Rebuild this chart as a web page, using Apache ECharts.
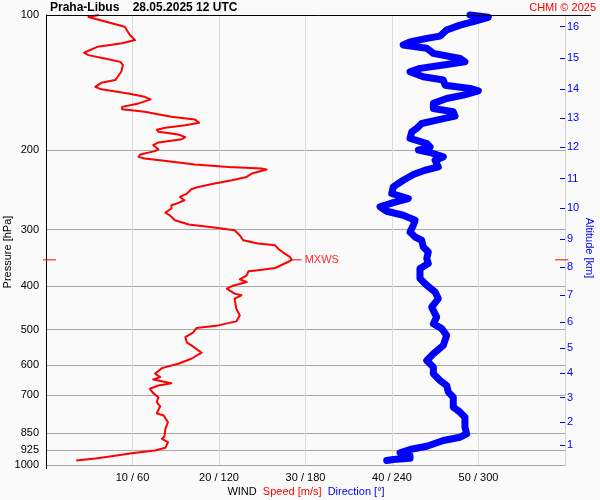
<!DOCTYPE html>
<html><head><meta charset="utf-8">
<script src="https://cdn.jsdelivr.net/npm/echarts@6/dist/echarts.min.js"></script>
<style>html,body{margin:0;padding:0;background:#fafafa}#c{width:600px;height:500px}</style>
</head><body><div id="c"></div>
<script>
// ---- data ----
const stationTitle = 'Praha-Libus    28.05.2025 12 UTC';
const copyrightText = 'CHMI \u00a9 2025';
const pressureTicks = [100, 200, 300, 400, 500, 600, 700, 850, 925, 1000];
const altitudeLabels = ['16','15','14','13','12','11','10','9','8','7','6','5','4','3','2','1'];
const altitudePressures = [106.1,124.8,145.9,169.4,196.6,231.1,268.9,314.5,362.9,419.0,481.2,549.0,624.8,708.5,803.1,904.6];
const windTickValues = [10, 20, 30, 40, 50];
const windTickLabels = ['10 / 60', '20 / 120', '30 / 180', '40 / 240', '50 / 300'];

const speedPressure = [100,101.0,104.3,106.2,110.8,113.7,115.6,117.6,121.3,122.8,124.9,127.1,129.2,133.7,139.5,141.5,144.4,146.3,149.4,152.0,154.0,157.2,160.0,161.9,164.1,168.4,170.6,173.6,175.7,178.0,179.8,181.8,184.3,186.8,188.8,192.0,194.7,198.7,200.7,204.2,206.7,208.4,210.5,214.9,217.6,219.3,220.5,225.0,229.0,232.9,236.9,241.0,243.9,249.3,253.7,258.0,261.6,264.7,269.2,274.8,278.6,285.8,292.2,296.3,300.9,308.7,316.6,322.0,324.9,331.6,339.0,344.9,350,354.4,364.9,369.2,371.1,378.8,386.7,392.1,400.2,405.5,416.1,419.7,426.8,449.4,465.1,479.6,489.5,496.3,508.2,519.7,534.9,542.3,563.0,580.6,595.6,609.2,626.9,637.9,645.5,657.9,665.7,677.0,692.4,706.8,725.1,741.3,767.2,776.2,803.3,830.9,864.4,874.6,890.0,915.9,928.6,941.6,956.2,967.5,977.5];
const speedValues = [6.1,4.9,7.6,9.1,9.7,10.3,8.8,6.0,4.4,4.9,6.8,8.6,8.9,8.7,8.0,6.4,5.7,6.4,9.5,11.4,12.1,10.7,8.8,8.8,11.4,14.5,17.2,17.7,16.1,13.8,12.8,13.0,15.3,16.1,15.7,13.0,12.4,13.0,12.6,10.9,10.7,11.4,13.4,17.2,21.1,24.9,25.5,23.8,23.2,21.5,19.5,17.6,16.8,16.3,15.5,16.0,15.3,14.5,14.5,13.8,14.3,14.9,16.5,19.2,21.8,22.4,22.8,24.5,26.5,26.9,27.6,28.2,28.4,27.9,26.5,24.5,23.4,23.2,22.4,23.2,21.5,20.9,21.8,22.6,21.8,22.0,22.4,22.0,19.9,17.4,17.0,16.1,16.3,16.8,18.0,16.8,15.3,13.4,12.6,13.2,12.4,14.5,13.0,12.0,12.4,13.0,12.8,13.2,12.8,13.6,14.1,13.8,13.7,13.4,14.1,13.8,12.6,9.9,7.6,5.7,3.5];

const directionPressure = [100,101.2,103.5,105.3,108.0,111.4,112.7,114.7,116.6,118.6,121.7,124.9,127.1,129.2,131.4,133.7,137.2,139.5,143.2,145.6,147.4,150.7,153.3,157.2,161.3,164.1,167.8,171.3,174.2,178.7,181.8,188.1,193.0,196.4,199.7,202.1,206.7,210.2,217.6,221.3,226.2,232.9,241.0,249.3,255.8,261.1,267.0,273.0,278.6,285.8,293.3,303.5,311.4,316.6,327.7,336.2,347.7,356.8,366.1,385.3,398.7,412.7,426.8,445.7,469.1,485.3,497.7,515.2,542.3,565.9,585.6,606.1,626.9,648.8,665.7,688.9,706.8,743.9,763.2,783.0,824.2,852.5,867.5,882.3,908.4,923.9,939.6,952.8,966.0,972.5,977.5];
const directionValues = [294.1,306.8,296.4,287.2,277.9,273.3,264.1,252.5,247.8,264.1,268.7,287.2,290.6,275.6,259.4,252.5,261.7,275.6,276.8,294.1,299.9,289.5,277.9,268.7,268.7,282.5,283.7,271.0,260.6,257.1,253.7,252.5,264.1,266.4,258.3,266.4,275.6,269.9,272.1,262.9,254.8,247.8,240.9,239.8,251.3,240.9,231.7,236.3,247.8,256.0,254.8,252.5,256.0,260.6,261.7,265.2,264.1,265.2,259.4,259.4,264.1,269.9,272.1,267.5,271.0,268.7,274.5,277.9,275.6,268.7,264.1,268.7,268.7,273.3,277.9,279.1,282.5,282.5,287.2,290.6,290.6,291.8,287.2,275.6,264.1,252.5,245.6,252.5,252.5,240.9,236.3];

const mxwsPressure = 350;
const mxwsSpeed = 28.4;

// ---- chart ----
const lg = Math.log10;
const FONT = 'Liberation Sans, Arial, sans-serif';
const speedMax = 60;

function nearestLabel(v, pres, labels) {
  let best = 0, bd = Infinity;
  pres.forEach((p, i) => { const d = Math.abs(lg(p) - v); if (d < bd) { bd = d; best = i; } });
  return labels[best];
}

const chart = echarts.init(document.getElementById('c'), null, { renderer: 'canvas' });
chart.setOption({
  animation: false,
  backgroundColor: '#fafafa',
  grid: { left: 46, right: 35, top: 15, bottom: 35, containLabel: false },
  xAxis: [
    {
      type: 'value', min: 0, max: speedMax, position: 'bottom',
      axisLine: { show: false, onZero: false },
      axisTick: { show: false, customValues: windTickValues },
      axisLabel: {
        customValues: windTickValues, margin: 7, color: '#000', fontSize: 11, fontFamily: FONT,
        formatter: v => windTickLabels[windTickValues.indexOf(Math.round(v))] || ''
      },
      splitLine: { show: true, lineStyle: { color: '#dcdcdc', width: 1 } }
    },
    { type: 'value', min: 0, max: 360, show: false }
  ],
  yAxis: [
    {
      type: 'value', min: lg(100), max: lg(1000), inverse: true, position: 'left',
      axisLine: { show: true, onZero: false, lineStyle: { color: '#000', width: 1 } },
      axisTick: { show: false, customValues: pressureTicks.map(lg) },
      axisLabel: {
        customValues: pressureTicks.map(lg), margin: 7, color: '#000', fontSize: 11, fontFamily: FONT,
        formatter: v => String(Math.round(Math.pow(10, v)))
      },
      splitLine: { show: true, lineStyle: { color: '#a8a8a8', width: 1 } }
    },
    {
      type: 'value', min: lg(100), max: lg(1000), inverse: true, position: 'right',
      axisLine: { show: true, onZero: false, lineStyle: { color: '#d0d0d0', width: 1 } },
      axisTick: { show: true, inside: true, length: 5, customValues: altitudePressures.map(lg), lineStyle: { color: '#0000ff', width: 1 } },
      axisLabel: {
        customValues: altitudePressures.map(lg), margin: 2, color: '#0000ff', fontSize: 11, fontFamily: FONT,
        formatter: v => nearestLabel(v, altitudePressures, altitudeLabels)
      },
      splitLine: { show: false }
    }
  ],
  series: [
    {
      name: 'Direction', type: 'line', xAxisIndex: 1, yAxisIndex: 0,
      data: directionValues.map((d, i) => [d, lg(directionPressure[i])]),
      showSymbol: false, symbol: 'none', clip: false, z: 3,
      lineStyle: { color: '#0000ff', width: 7, join: 'round', cap: 'round' }
    },
    {
      name: 'Speed', type: 'line', xAxisIndex: 0, yAxisIndex: 0,
      data: speedValues.map((s, i) => [s, lg(speedPressure[i])]),
      showSymbol: false, symbol: 'none', z: 4,
      lineStyle: { color: '#ff0000', width: 2, join: 'round' }
    },
    {
      name: 'MXWS', type: 'custom', xAxisIndex: 0, yAxisIndex: 0, clip: false, z: 5,
      data: [[mxwsSpeed, lg(mxwsPressure)]],
      renderItem: function (params, api) {
        const peak = api.coord([api.value(0), api.value(1)]);
        const left = api.coord([0, api.value(1)]);
        const right = api.coord([speedMax, api.value(1)]);
        const st = { stroke: '#ff0000', lineWidth: 1 };
        return {
          type: 'group', children: [
            { type: 'line', shape: { x1: left[0] - 3, y1: left[1], x2: left[0] + 10, y2: left[1] }, style: st },
            { type: 'line', shape: { x1: right[0] - 10, y1: right[1], x2: right[0] + 3, y2: right[1] }, style: st },
            { type: 'line', shape: { x1: peak[0], y1: peak[1], x2: peak[0] + 10, y2: peak[1] }, style: st },
            { type: 'text', x: peak[0] + 13, y: peak[1], style: { text: 'MXWS', fill: '#ff2a2a', font: '11px ' + FONT, align: 'left', verticalAlign: 'middle' } }
          ]
        };
      }
    }
  ],
  graphic: [
    { type: 'line', z: 10, shape: { x1: 46, y1: 15.5, x2: 591, y2: 15.5 }, style: { stroke: '#000', lineWidth: 1 } },
    { type: 'line', z: 10, shape: { x1: 46.5, y1: 465, x2: 46.5, y2: 469 }, style: { stroke: '#000', lineWidth: 1 } },
    { type: 'text', x: 50, y: 7.5, style: { text: stationTitle, font: 'bold 12px ' + FONT, fill: '#000', align: 'left', verticalAlign: 'middle', textAlign: 'left', textVerticalAlign: 'middle' } },
    { type: 'text', x: 596, y: 7.5, style: { text: copyrightText, font: '11px ' + FONT, fill: '#ff0000', align: 'right', verticalAlign: 'middle', textAlign: 'right', textVerticalAlign: 'middle' } },
    { type: 'text', x: 8, y: 252, rotation: Math.PI / 2, style: { text: 'Pressure [hPa]', font: '11px ' + FONT, fill: '#000', align: 'center', verticalAlign: 'middle', textAlign: 'center', textVerticalAlign: 'middle' } },
    { type: 'text', x: 589, y: 248, rotation: -Math.PI / 2, style: { text: 'Altitude [km]', font: '11px ' + FONT, fill: '#0000ff', align: 'center', verticalAlign: 'middle', textAlign: 'center', textVerticalAlign: 'middle' } },
    { type: 'text', x: 306, y: 491.5, style: {
        text: '{k|WIND}  {r|Speed [m/s]}  {b|Direction [°]}', font: '11px ' + FONT,
        align: 'center', verticalAlign: 'middle', textAlign: 'center', textVerticalAlign: 'middle',
        rich: { k: { fill: '#000', color: '#000', font: '11px ' + FONT }, r: { fill: '#ff0000', color: '#ff0000', font: '11px ' + FONT }, b: { fill: '#0000ff', color: '#0000ff', font: '11px ' + FONT } }
      } }
  ]
});
</script>
</body></html>
